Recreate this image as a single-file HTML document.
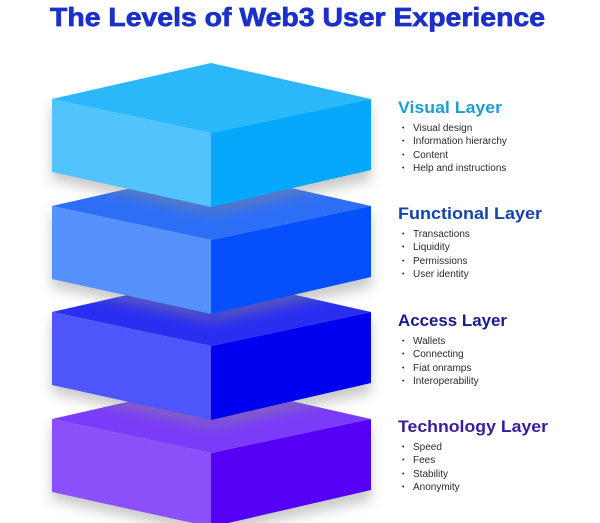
<!DOCTYPE html>
<html><head><meta charset="utf-8"><style>
html,body{margin:0;padding:0;background:#fff;}
svg{display:block;}
</style></head><body>
<svg width="600" height="523" viewBox="0 0 600 523" xmlns="http://www.w3.org/2000/svg">
<defs>
<filter id="sh" x="-20%" y="-20%" width="140%" height="160%"><feGaussianBlur stdDeviation="6"/></filter>
</defs>
<rect width="600" height="523" fill="#fff"/>
<text x="50" y="26" font-family="Liberation Sans, sans-serif" font-weight="bold" font-size="26" fill="#1a30c8" stroke="#1a30c8" stroke-width="0.7" textLength="495" lengthAdjust="spacingAndGlyphs">The Levels of Web3 User Experience</text>

<g transform="translate(0,320)">
<path d="M52,104 L211,207 L371,104 L371,180 L211,215 L52,180Z" fill="#888" opacity="0.45" filter="url(#sh)"/>
<polygon points="211,63 371,99 211,133 52,99" fill="#7a3cf8"/>
<polygon points="52,99 211,133 211,207 52,172" fill="#8c50fa"/>
<polygon points="211,133 371,99 371,170 211,207" fill="#5500f5"/>
</g>
<g transform="translate(0,213)">
<path d="M52,104 L211,207 L371,104 L371,180 L211,215 L52,180Z" fill="#888" opacity="0.45" filter="url(#sh)"/>
<polygon points="211,63 371,99 211,133 52,99" fill="#2a2ef0"/>
<polygon points="52,99 211,133 211,207 52,172" fill="#4d55fb"/>
<polygon points="211,133 371,99 371,170 211,207" fill="#0000f0"/>
</g>
<g transform="translate(0,107)">
<path d="M52,104 L211,207 L371,104 L371,180 L211,215 L52,180Z" fill="#888" opacity="0.45" filter="url(#sh)"/>
<polygon points="211,63 371,99 211,133 52,99" fill="#2d6ef7"/>
<polygon points="52,99 211,133 211,207 52,172" fill="#5590fb"/>
<polygon points="211,133 371,99 371,170 211,207" fill="#0650fc"/>
</g>
<g>
<path d="M52,104 L211,207 L371,104 L371,180 L211,215 L52,180Z" fill="#888" opacity="0.45" filter="url(#sh)"/>
<polygon points="211,63 371,99 211,133 52,99" fill="#2bb8fb"/>
<polygon points="52,99 211,133 211,207 52,172" fill="#52c3fd"/>
<polygon points="211,133 371,99 371,170 211,207" fill="#05a8fa"/>
</g>

<g font-family="Liberation Sans, sans-serif">
<text x="398" y="113" font-weight="bold" font-size="17" fill="#1c9ed2" textLength="104" lengthAdjust="spacingAndGlyphs">Visual Layer</text>
<text x="398" y="219" font-weight="bold" font-size="17" fill="#1444a8" textLength="144" lengthAdjust="spacingAndGlyphs">Functional Layer</text>
<text x="398" y="326" font-weight="bold" font-size="17" fill="#1a1a8c" textLength="109" lengthAdjust="spacingAndGlyphs">Access Layer</text>
<text x="398" y="432" font-weight="bold" font-size="17" fill="#3a1c9c" textLength="150" lengthAdjust="spacingAndGlyphs">Technology Layer</text>
</g>
<g font-family="Liberation Sans, sans-serif" font-size="10" fill="#2a2a2a">
<g font-size="7">
<text x="402" y="130">•</text><text x="402" y="143">•</text><text x="402" y="157">•</text><text x="402" y="170">•</text>
<text x="402" y="236">•</text><text x="402" y="249">•</text><text x="402" y="263">•</text><text x="402" y="276">•</text>
<text x="402" y="343">•</text><text x="402" y="356">•</text><text x="402" y="370">•</text><text x="402" y="383">•</text>
<text x="402" y="449">•</text><text x="402" y="462">•</text><text x="402" y="476">•</text><text x="402" y="489">•</text>
</g>
<text x="413" y="131">Visual design</text>
<text x="413" y="144">Information hierarchy</text>
<text x="413" y="158">Content</text>
<text x="413" y="171">Help and instructions</text>

<text x="413" y="237">Transactions</text>
<text x="413" y="250">Liquidity</text>
<text x="413" y="264">Permissions</text>
<text x="413" y="277">User identity</text>

<text x="413" y="344">Wallets</text>
<text x="413" y="357">Connecting</text>
<text x="413" y="371">Fiat onramps</text>
<text x="413" y="384">Interoperability</text>

<text x="413" y="450">Speed</text>
<text x="413" y="463">Fees</text>
<text x="413" y="477">Stability</text>
<text x="413" y="490">Anonymity</text>
</g>
</svg>
</body></html>
